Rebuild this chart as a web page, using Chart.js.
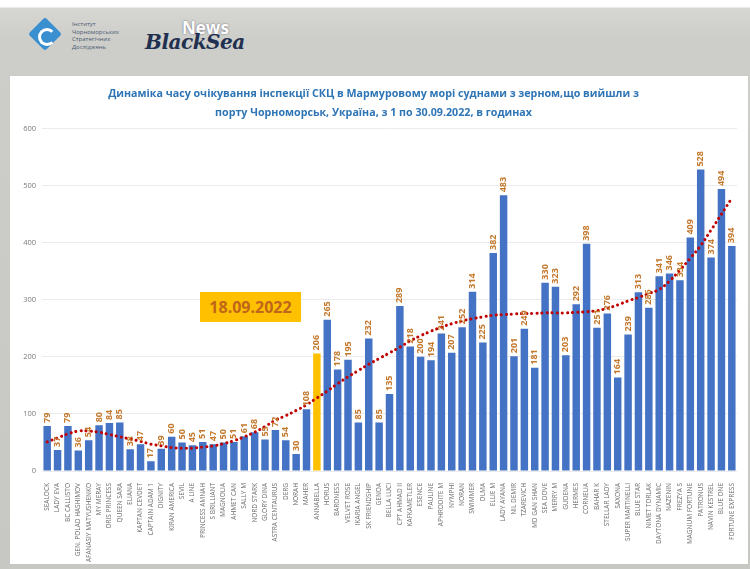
<!DOCTYPE html>
<html>
<head>
<meta charset="utf-8">
<script src="https://cdn.jsdelivr.net/npm/chart.js@4.4.0/dist/chart.umd.min.js"></script>
<style>
  html, body { margin: 0; padding: 0; }
  body {
    width: 750px; height: 569px; position: relative; overflow: hidden;
    background: linear-gradient(180deg, #ffffff 0px, #ffffff 7px, #d6d6d2 8px, #cdcdc9 40px, #c7c7c3 100%);
  }
  #card { position: absolute; left: 10px; top: 76px; width: 738px; height: 488px; background: #fff; }
  #wrap { position: absolute; left: 10px; top: 76px; width: 738px; height: 488px; }
  .diamond {
    position: absolute; left: 33px; top: 22px; width: 24px; height: 24px;
    background: #3a8fd0; transform: rotate(45deg); border-radius: 3px;
  }
  .swirl {
    position: absolute; left: 38px; top: 28px; width: 12px; height: 12px;
    border: 3px solid #fff; border-radius: 50%; border-right-color: transparent;
  }
  .inst {
    position: absolute; left: 72px; top: 21px; font: 6px/7.5px "Open Sans", sans-serif; color: #4a5a70;
  }
  .news {
    position: absolute; left: 182px; top: 16px; font: bold 17px "Open Sans", sans-serif; color: #fff;
    text-shadow: 0 0 2px #667;
  }
  .bsea {
    position: absolute; left: 145px; top: 30px; font: italic bold 20px "DejaVu Serif", serif; color: #1f3050;
    letter-spacing: -0.5px;
  }
  #stamp {
    position: absolute; left: 200px; top: 292px; width: 101px; height: 30px; background: #ffc000;
    font: bold 16px "Open Sans", sans-serif; color: #c0661a; text-align: center; line-height: 30px;
  }
</style>
</head>
<body>
<div class="diamond"></div><div class="swirl"></div>
<div class="inst">Інститут<br>Чорноморських<br>Стратегічних<br>Досліджень</div>
<div class="news">News</div>
<div class="bsea">BlackSea</div>
<div id="card"></div>
<div id="wrap"><canvas id="chart" width="738" height="488"></canvas></div>
<div id="stamp">18.09.2022</div>
<script>
const vessels = [
  "SEALOCK", "LADY EVA", "BC CALLISTO", "GEN. POLAD HASHIMOV", "AFANASIY MATYUSHENKO",
  "MY MERAY", "ORIS PRINCESS", "QUEEN SARA", "ELIANA", "KAPTAN CEVDET",
  "CAPTAIN ADAM 1", "DIGNITY", "KIRAN AMERICA", "SEVIL", "A LINE",
  "PRINCESS AMNAH", "S BRILLIANT", "MAGNOLIA", "AHMET CAN", "SALLY M",
  "NORD STARK", "GLORY DINA", "ASTRA CENTAURUS", "DERG", "NORAH",
  "MAHER", "ANNABELLA", "HORUS", "BARONESS", "VELVET ROSE",
  "IKARIA ANGEL", "SK FRIENDSHIP", "GENOA", "BELLA LUCI", "CPT AHMAD II",
  "KAFKAMETLER", "ESENCE", "PAULINE", "APHRODITE M", "NYMPHI",
  "NORAN", "SWIMMER", "OLMA", "ELLIE M", "LADY AYANA",
  "NIL DEMIR", "TZAREVICH", "MD GAN SHAN", "SEA DOVE", "MERRY M",
  "GUDENA", "HERMES", "CORNELIA", "BAHAR K", "STELLAR LADY",
  "SAXONA", "SUPER MARTINELLI", "BLUE STAR", "NIMET TORLAK", "DAYTONA DYNAMIC",
  "NAZENIN", "FREZYA S", "MAGNUM FORTUNE", "PATRONUS", "NAVIN KESTREL",
  "BLUE ONE", "FORTUNE EXPRESS"
];
const hours = [
  79, 37, 79, 36, 54, 80, 84, 85, 38, 47,
  17, 39, 60, 50, 45, 51, 47, 50, 51, 61,
  68, 55, 72, 54, 30, 108, 206, 265, 178, 195,
  85, 232, 85, 135, 289, 218, 200, 194, 241, 207,
  252, 314, 225, 382, 483, 201, 249, 181, 330, 323,
  203, 292, 398, 251, 276, 164, 239, 313, 286, 341,
  346, 334, 409, 528, 374, 494, 394
];
// trend line
const trend = [
  51, 58, 65, 70, 70, 68, 64, 60, 56, 52,
  47, 44, 41, 40, 40, 42, 44, 48, 53, 60,
  68, 78, 89, 97, 106, 116, 128, 140, 153, 165,
  176, 187, 197, 207, 217, 228, 237, 245, 252, 258,
  263, 267, 270, 273, 274, 275, 276, 276, 277, 277,
  277, 278, 279, 281, 285, 291, 298, 304, 311, 318,
  333, 352, 373, 395, 422, 450, 478
];
const highlight = "ANNABELLA";
const yTicks = [0, 100, 200, 300, 400, 500, 600];

const barColors = vessels.map(v => v === highlight ? '#ffc000' : '#4472c4');

const valueLabels = {
  id: 'valueLabels',
  afterDatasetsDraw(chart) {
    const ctx = chart.ctx;
    const meta = chart.getDatasetMeta(1);
    ctx.save();
    ctx.fillStyle = '#c4782c';
    ctx.font = 'bold 9px "Open Sans", sans-serif';
    ctx.textAlign = 'left';
    ctx.textBaseline = 'middle';
    meta.data.forEach((bar, i) => {
      ctx.save();
      ctx.translate(bar.x, bar.y - 3);
      ctx.rotate(-Math.PI / 2);
      ctx.fillText(String(hours[i]), 0, 0);
      ctx.restore();
    });
    ctx.restore();
  }
};

new Chart(document.getElementById('chart'), {
  data: {
    labels: vessels,
    datasets: [
      {
        type: 'line',
        data: trend,
        borderColor: '#c00000',
        borderWidth: 3,
        borderDash: [0.1, 5],
        borderCapStyle: 'round',
        pointRadius: 0,
        tension: 0.4,
        order: 0
      },
      {
        type: 'bar',
        data: hours,
        backgroundColor: barColors,
        barPercentage: 0.72,
        categoryPercentage: 1,
        order: 1
      }
    ]
  },
  options: {
    responsive: false,
    animation: false,
    layout: { padding: { left: 0, right: 11, top: 0, bottom: 0 } },
    plugins: {
      legend: { display: false },
      tooltip: { enabled: false },
      title: {
        display: true,
        text: [
          'Динаміка часу очікування інспекції СКЦ в Мармуровому морі суднами з зерном,що вийшли з',
          'порту Чорноморськ, Україна, з 1 по 30.09.2022, в годинах'
        ],
        color: '#2e75b6',
        font: { family: '"Open Sans", sans-serif', size: 10.7, weight: 'bold', lineHeight: 1.8 },
        padding: { top: 8, bottom: 6 }
      }
    },
    scales: {
      x: {
        grid: { display: false },
        border: { display: false },
        ticks: {
          autoSkip: false, maxRotation: 90, minRotation: 90, padding: 4,
          color: '#6b6b6b', font: { family: '"Open Sans", sans-serif', size: 6.5 }
        },
        afterFit(scale) { scale.height = 93; }
      },
      y: {
        min: 0, max: 600,
        afterBuildTicks(scale) { scale.ticks = yTicks.map(v => ({ value: v })); },
        grid: { color: '#ebebeb', drawTicks: false },
        border: { display: false },
        ticks: { color: '#7a7a7a', padding: 6, font: { family: '"Open Sans", sans-serif', size: 7.5 } },
        afterFit(scale) { scale.width = 32; }
      }
    }
  },
  plugins: [valueLabels]
});
</script>
</body>
</html>
